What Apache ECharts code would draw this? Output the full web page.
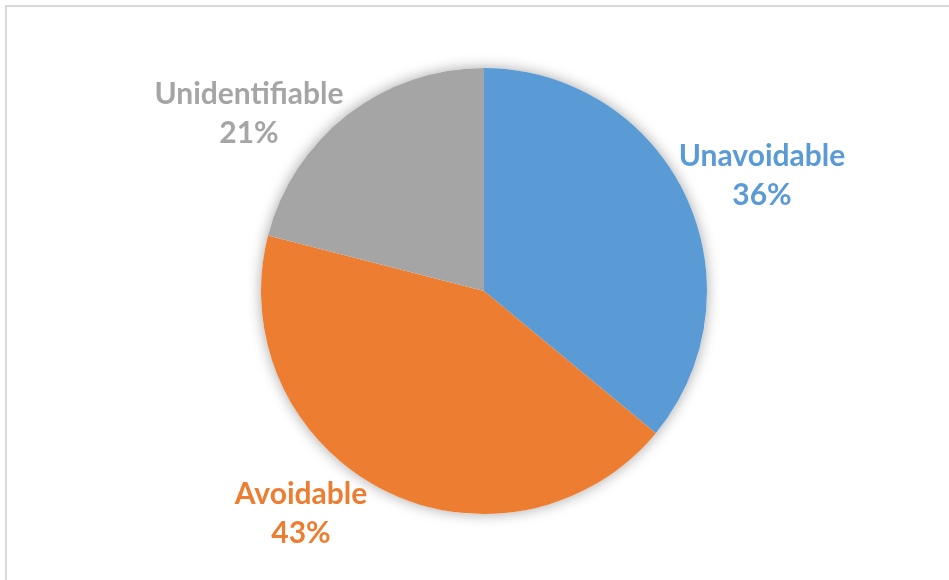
<!DOCTYPE html>
<html>
<head>
<meta charset="utf-8">
<script src="https://cdn.jsdelivr.net/npm/echarts@6/dist/echarts.min.js"></script>
<style>
  html, body { margin: 0; padding: 0; background: #fff; }
  #chart { width: 949px; height: 580px; }
</style>
</head>
<body>
<div id="chart"></div>
<script>
// Share of cases by category
const categories = ['Unavoidable', 'Avoidable', 'Unidentifiable'];
const shares = [36, 43, 21];
const colors = ['#5B9BD5', '#ED7D31', '#A5A5A5'];

// Where each two-line label sits (block centre)
const labelSpots = [[762, 176], [301, 514], [249, 114]];

const chart = echarts.init(document.getElementById('chart'), null, { renderer: 'canvas' });

const pieCenter = [484, 291];
const pieRadius = 223;

chart.setOption({
  backgroundColor: '#ffffff',
  animation: false,
  graphic: [
    { type: 'line', shape: { x1: 5, y1: 6, x2: 949, y2: 6 }, style: { stroke: '#D9D9D9', lineWidth: 2 }, silent: true },
    { type: 'line', shape: { x1: 6, y1: 5, x2: 6, y2: 580 }, style: { stroke: '#D9D9D9', lineWidth: 2 }, silent: true }
  ],
  series: [
    {
      // soft drop shadow behind the whole disc
      type: 'pie',
      silent: true,
      center: pieCenter,
      radius: pieRadius,
      z: 1,
      label: { show: false },
      labelLine: { show: false },
      itemStyle: {
        color: '#ffffff',
        shadowBlur: 14,
        shadowColor: 'rgba(0,0,0,0.35)',
        shadowOffsetX: 0,
        shadowOffsetY: 0
      },
      data: [{ value: 1, name: '' }]
    },
    {
      type: 'pie',
      center: pieCenter,
      radius: pieRadius,
      startAngle: 90,
      clockwise: true,
      z: 2,
      itemStyle: { borderWidth: 0 },
      label: {
        show: true,
        position: 'outside',
        formatter: p => p.name + '\n' + p.value + '%',
        fontFamily: 'Lato',
        fontWeight: 'bold',
        fontSize: 30,
        lineHeight: 39,
        align: 'center'
      },
      labelLine: { show: false },
      labelLayout: params => {
        const spot = labelSpots[params.dataIndex];
        return { x: spot[0], y: spot[1], align: 'center', verticalAlign: 'middle' };
      },
      data: categories.map((name, i) => ({
        name: name,
        value: shares[i],
        itemStyle: { color: colors[i] },
        label: { color: colors[i] }
      }))
    }
  ]
});
</script>
</body>
</html>
